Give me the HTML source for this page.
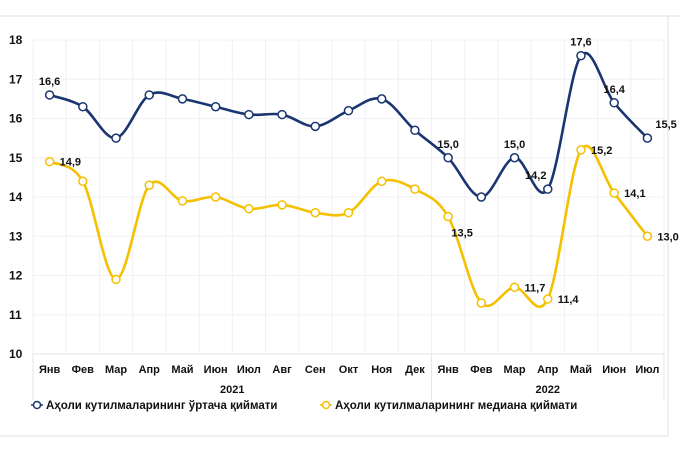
<!DOCTYPE html>
<html><head><meta charset="utf-8"><style>
body{margin:0;background:#fff;}
svg{display:block;font-family:"Liberation Sans",Arial,sans-serif;}
</style></head><body>
<svg id="s" width="680" height="453" viewBox="0 0 680 453" xmlns="http://www.w3.org/2000/svg">
<line x1="0" y1="16" x2="680" y2="16" stroke="#e2e2e2"/>
<line x1="0" y1="436" x2="668" y2="436" stroke="#e2e2e2"/>
<line x1="668" y1="16" x2="668" y2="436" stroke="#e2e2e2"/>
<g id="grid"></g>
<g id="lines"></g>
<g id="txt" font-size="11" font-weight="bold" fill="#111"></g>
<g font-size="11.5" font-weight="bold" fill="#111">
<circle cx="37" cy="405" r="3.5" fill="#fff" stroke="#1a3570" stroke-width="1.5"/>
<line x1="31" y1="405" x2="33.5" y2="405" stroke="#1a3570" stroke-width="1.5"/><line x1="40.5" y1="405" x2="43" y2="405" stroke="#1a3570" stroke-width="1.5"/>
<text x="46" y="409">Аҳоли кутилмаларининг ўртача қиймати</text>
<circle cx="326" cy="405" r="3.5" fill="#fff" stroke="#f5c000" stroke-width="1.5"/>
<line x1="320" y1="405" x2="322.5" y2="405" stroke="#f5c000" stroke-width="1.5"/><line x1="329.5" y1="405" x2="332" y2="405" stroke="#f5c000" stroke-width="1.5"/>
<text x="335" y="409">Аҳоли кутилмаларининг медиана қиймати</text>
</g>
</svg>
<script>
var NS="http://www.w3.org/2000/svg",s=document.getElementById('s');
function el(p,t,a,tx){var e=document.createElementNS(NS,t);for(var k in a)e.setAttribute(k,a[k]);if(tx)e.textContent=tx;document.getElementById(p).appendChild(e);return e;}
var L=33,R=664,st=(R-L)/19;
function X(i){return L+st*(i+0.5);}
function Y(v){return 354-(v-10)*39.25;}
for(var v=10;v<=18;v++){el('grid','line',{x1:L,x2:R,y1:Y(v),y2:Y(v),stroke:v==10?'#e6e6e6':'#f0f0f5'});el('txt','text',{x:9,y:Y(v)+4,'font-size':12},v);}
for(var i=0;i<=19;i++){el('grid','line',{x1:L+st*i,x2:L+st*i,y1:40,y2:354,stroke:'#f0f0f5'});}
el('grid','line',{x1:L,x2:L,y1:354,y2:400,stroke:'#e6e6e6'});
el('grid','line',{x1:L+12*st,x2:L+12*st,y1:354,y2:400,stroke:'#e6e6e6'});
el('grid','line',{x1:R,x2:R,y1:354,y2:400,stroke:'#e6e6e6'});
var m=["Янв","Фев","Мар","Апр","Май","Июн","Июл","Авг","Сен","Окт","Ноя","Дек","Янв","Фев","Мар","Апр","Май","Июн","Июл"];
m.forEach(function(t,i){el('txt','text',{x:X(i),y:373,'text-anchor':'middle'},t);});
el('txt','text',{x:L+6*st,y:393,'text-anchor':'middle'},'2021');
el('txt','text',{x:L+15.5*st,y:393,'text-anchor':'middle'},'2022');
var B=[16.6,16.3,15.5,16.6,16.5,16.3,16.1,16.1,15.8,16.2,16.5,15.7,15.0,14.0,15.0,14.2,17.6,16.4,15.5];
var G=[14.9,14.4,11.9,14.3,13.9,14.0,13.7,13.8,13.6,13.6,14.4,14.2,13.5,11.3,11.7,11.4,15.2,14.1,13.0];
function path(a){var p=a.map(function(v,i){return[X(i),Y(v)];});var d="M"+p[0][0]+","+p[0][1];
for(var i=0;i<p.length-1;i++){var p0=p[i-1]||p[i],p1=p[i],p2=p[i+1],p3=p[i+2]||p2,t=6;
d+=" C"+(p1[0]+(p2[0]-p0[0])/t)+","+(p1[1]+(p2[1]-p0[1])/t)+" "+(p2[0]-(p3[0]-p1[0])/t)+","+(p2[1]-(p3[1]-p1[1])/t)+" "+p2[0]+","+p2[1];}return d;}
[[G,'#f5c000'],[B,'#1a3570']].forEach(function(q){el('lines','path',{d:path(q[0]),fill:'none',stroke:q[1],'stroke-width':2.6});
q[0].forEach(function(v,i){el('lines','circle',{cx:X(i),cy:Y(v),r:4,fill:'#fff',stroke:q[1],'stroke-width':1.5});});});
function f(v){return v.toFixed(1).replace('.',',');}
var lb=[[B,0,0,-10,'middle'],[B,12,0,-10,'middle'],[B,14,0,-10,'middle'],[B,15,-12,-10,'middle'],[B,16,0,-10,'middle'],[B,17,0,-10,'middle'],[B,18,8,-10,'start'],
[G,0,10,4,'start'],[G,12,14,20,'middle'],[G,14,10,4,'start'],[G,15,10,4,'start'],[G,16,10,4,'start'],[G,17,10,4,'start'],[G,18,10,4,'start']];
lb.forEach(function(l){el('txt','text',{x:X(l[1])+l[2],y:Y(l[0][l[1]])+l[3],'text-anchor':l[4]},f(l[0][l[1]]));});
</script>
</body></html>
